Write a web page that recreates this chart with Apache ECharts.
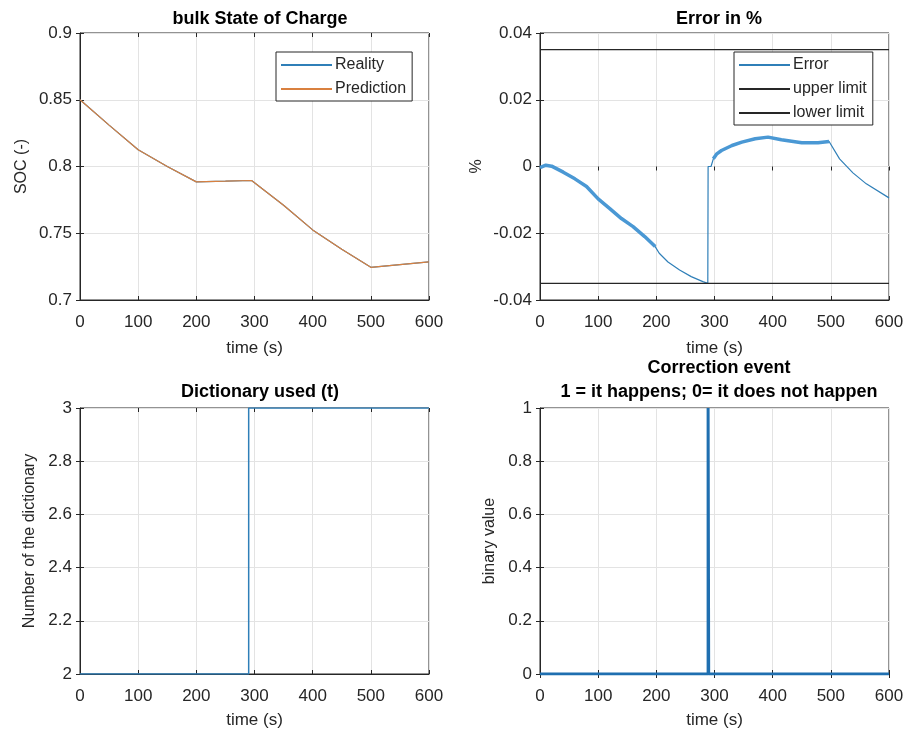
<!DOCTYPE html>
<html>
<head>
<meta charset="utf-8">
<script src="https://cdn.jsdelivr.net/npm/echarts@6/dist/echarts.min.js"></script>
<style>
  html, body { margin: 0; padding: 0; background: #fff; }
  #main { width: 920px; height: 730px; }
</style>
</head>
<body>
<div id="main"></div>
<script>
// ---- data ----
var timeTicks = [0, 100, 200, 300, 400, 500, 600];

var socTime = [0, 50, 100, 150, 200, 250, 295, 350, 400, 450, 500, 550, 600];
var socReality = [0.85, 0.831, 0.8125, 0.800, 0.7885, 0.789, 0.7895, 0.771, 0.7525, 0.738, 0.7245, 0.7265, 0.7285];
var socPrediction = [0.85, 0.831, 0.8125, 0.800, 0.7885, 0.789, 0.7895, 0.771, 0.7525, 0.738, 0.7245, 0.7265, 0.7285];

var errTime = [0, 10, 20, 40, 60, 80, 100, 120, 140, 160, 180, 198, 205, 220, 240, 260, 280, 288.5,
               289, 294, 298, 304, 312, 330, 347, 370, 392, 415, 450, 478, 497, 515, 538, 561, 600];
var errValues = [-0.0003, 0.0004, 0.0001, -0.0017, -0.0037, -0.006, -0.0097, -0.0126, -0.0156, -0.018, -0.021, -0.024, -0.026, -0.0286, -0.031, -0.033, -0.0345, -0.035,
                 0, 0, 0.0023, 0.0038, 0.0048, 0.0063, 0.0073, 0.0083, 0.0088, 0.008, 0.0071, 0.0071, 0.0075, 0.0023, -0.0019, -0.0052, -0.0094];
// parts of the error curve that show the dense ripple
var rippleRanges = [[0, 198], [296, 497]];
var upperLimit = 0.035;
var lowerLimit = -0.035;

var dictTime = [0, 290, 290, 600];
var dictValues = [2, 2, 3, 3];

var corrTime = [0, 289, 289, 290, 290, 600];
var corrValues = [0, 0, 1, 1, 0, 0];

// ---- helpers ----
function pairs(xs, ys) {
    return xs.map(function (x, i) { return [x, ys[i]]; });
}
function inRanges(x) {
    return rippleRanges.some(function (r) { return x >= r[0] && x <= r[1]; });
}

var blue = '#2f7fb8';
var orange = '#d9803f';
var textColor = '#262626';
var fontFamily = 'Liberation Sans, Arial, sans-serif';

var grids = [
    {left: 80, top: 33, width: 349, height: 267},
    {left: 540, top: 33, width: 349, height: 267},
    {left: 80, top: 408, width: 349, height: 266},
    {left: 540, top: 408, width: 349, height: 266}
];
grids.forEach(function (g) {
    g.show = true;
    g.borderColor = '#262626';
    g.borderWidth = 1;
    g.backgroundColor = '#fff';
});

var tickStyle = {show: true, inside: true, length: 4, lineStyle: {color: '#262626'}};

function xAxisFor(i, gap) {
    return {
        gridIndex: i, type: 'value', min: 0, max: 600, interval: 100,
        name: 'time (s)', nameLocation: 'middle', nameGap: gap,
        nameTextStyle: {color: textColor, fontSize: 17, fontFamily: fontFamily},
        axisLine: {show: true, onZero: false, lineStyle: {color: '#262626'}},
        axisTick: tickStyle,
        axisLabel: {color: textColor, fontSize: 17, fontFamily: fontFamily, margin: 14},
        splitLine: {show: true, lineStyle: {color: '#e3e3e3'}}
    };
}
function yAxisFor(i, min, max, interval, name, gap) {
    return {
        gridIndex: i, type: 'value', min: min, max: max, interval: interval,
        name: name, nameLocation: 'middle', nameGap: gap,
        nameTextStyle: {color: textColor, fontSize: 16, fontFamily: fontFamily},
        axisLine: {show: true, onZero: false, lineStyle: {color: '#262626'}},
        axisTick: tickStyle,
        axisLabel: {color: textColor, fontSize: 17, fontFamily: fontFamily, margin: 8},
        splitLine: {show: true, lineStyle: {color: '#e3e3e3'}}
    };
}
// mirror axes on top / right carry only the inward ticks of the box
function topAxisFor(i) {
    return {gridIndex: i, type: 'value', position: 'top', min: 0, max: 600, interval: 100,
        axisLine: {show: false}, axisTick: tickStyle, axisLabel: {show: false}, splitLine: {show: false}};
}
function rightAxisFor(i, min, max, interval) {
    return {gridIndex: i, type: 'value', position: 'right', min: min, max: max, interval: interval,
        axisLine: {show: false}, axisTick: tickStyle, axisLabel: {show: false}, splitLine: {show: false}};
}

var errPairs = pairs(errTime, errValues);
var ripplePairs = errPairs.map(function (p) { return inRanges(p[0]) ? p : [p[0], null]; });

var titleStyle = {color: '#000', fontSize: 18, fontWeight: 'bold', fontFamily: fontFamily};
var legendBase = {
    orient: 'vertical', itemWidth: 51, itemHeight: 2, icon: 'rect', itemGap: 8,
    borderColor: '#262626', borderWidth: 1, backgroundColor: '#fff', borderRadius: 0,
    padding: [5, 6, 4, 5],
    textStyle: {color: textColor, fontSize: 16, fontFamily: fontFamily, padding: [0, 0, 0, -2]}
};

var option = {
    animation: false,
    backgroundColor: '#fff',
    title: [
        {text: 'bulk State of Charge', left: 255, top: 5, textAlign: 'center', textStyle: titleStyle},
        {text: 'Error in %', left: 714, top: 5, textAlign: 'center', textStyle: titleStyle},
        {text: 'Dictionary used (t)', left: 255, top: 378, textAlign: 'center', textStyle: titleStyle},
        {text: 'Correction event', left: 714, top: 354, textAlign: 'center', textStyle: titleStyle},
        {text: '1 = it happens; 0= it does not happen', left: 714, top: 378, textAlign: 'center', textStyle: titleStyle}
    ],
    legend: [
        Object.assign({}, legendBase, {left: 276, top: 52, data: ['Reality', 'Prediction']}),
        Object.assign({}, legendBase, {left: 734, top: 52, data: ['Error', 'upper limit', 'lower limit']})
    ],
    grid: grids,
    xAxis: [xAxisFor(0, 40), xAxisFor(1, 40), xAxisFor(2, 38), xAxisFor(3, 38),
            topAxisFor(0), topAxisFor(1), topAxisFor(2), topAxisFor(3)],
    yAxis: [
        yAxisFor(0, 0.7, 0.9, 0.05, 'SOC (-)', 50),
        yAxisFor(1, -0.04, 0.04, 0.02, '%', 55),
        yAxisFor(2, 2, 3, 0.2, 'Number of the dictionary', 42),
        yAxisFor(3, 0, 1, 0.2, 'binary value', 42),
        rightAxisFor(0, 0.7, 0.9, 0.05), rightAxisFor(1, -0.04, 0.04, 0.02),
        rightAxisFor(2, 2, 3, 0.2), rightAxisFor(3, 0, 1, 0.2)
    ],
    series: [
        {name: 'Reality', type: 'line', xAxisIndex: 0, yAxisIndex: 0, symbol: 'none',
            color: blue, lineStyle: {width: 1.2}, data: pairs(socTime, socReality)},
        {name: 'Prediction', type: 'line', xAxisIndex: 0, yAxisIndex: 0, symbol: 'none',
            color: orange, lineStyle: {width: 1.2}, data: pairs(socTime, socPrediction)},
        {name: 'Error', type: 'line', xAxisIndex: 1, yAxisIndex: 1, symbol: 'none',
            color: blue, lineStyle: {width: 1.2}, data: errPairs, z: 3},
        {name: 'ripple', type: 'line', xAxisIndex: 1, yAxisIndex: 1, symbol: 'none', silent: true,
            color: '#4a98d4', lineStyle: {width: 3.5}, connectNulls: false, data: ripplePairs, z: 3},
        {name: 'upper limit', type: 'line', xAxisIndex: 1, yAxisIndex: 1, symbol: 'none',
            color: '#262626', lineStyle: {width: 1.2}, data: [[0, upperLimit], [600, upperLimit]]},
        {name: 'lower limit', type: 'line', xAxisIndex: 1, yAxisIndex: 1, symbol: 'none',
            color: '#262626', lineStyle: {width: 1.2}, data: [[0, lowerLimit], [600, lowerLimit]]},
        {name: 'dictionary', type: 'line', xAxisIndex: 2, yAxisIndex: 2, symbol: 'none',
            color: blue, lineStyle: {width: 1.5}, data: pairs(dictTime, dictValues)},
        {name: 'correction', type: 'line', xAxisIndex: 3, yAxisIndex: 3, symbol: 'none',
            color: '#1f6fb0', lineStyle: {width: 3}, data: pairs(corrTime, corrValues)}
    ]
};

var chart = echarts.init(document.getElementById('main'));
chart.setOption(option);
</script>
</body>
</html>
